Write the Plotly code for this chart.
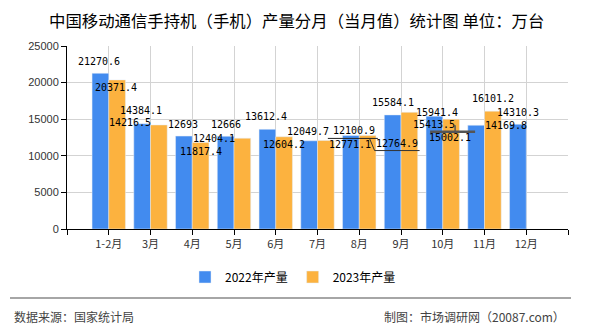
import plotly.graph_objects as go

categories = ["1-2月", "3月", "4月", "5月", "6月", "7月", "8月", "9月", "10月", "11月", "12月"]
prod_2022 = [21270.6, 14384.1, 12693, 12666, 13612.4, 12049.7, 12771.1, 15584.1, 15413.5, 14169.8, 14310.3]
prod_2023 = [20371.4, 14216.5, 11817.4, 12404.1, 12604.2, 12100.9, 12764.9, 15941.4, 15002.1, 16101.2, None]
series_names = ["2022年产量", "2023年产量"]
y_ticks = [0, 5000, 10000, 15000, 20000, 25000]

# label pixel offsets (dx right, dy down) relative to bar top centre
off_2022 = [(-1, -12), (-1, -13), (-1, -12), (0, -12), (-1, -13), (-1, -9),
            (-1, 8.5), (0, -12), (0, 8), (30, 0), (0, -12)]
off_2023 = [(-1, 8), (-29, -2), (0, 8.5), (-28, 0), (0, 8), (28, -10),
            (29, 7.5), (28, 0), (-1, 18), (0, -13), (0, 0)]

BLUE = "#428BEF"
ORANGE = "#FCB23F"

xs = list(range(len(categories)))
fig = go.Figure()
fig.add_trace(go.Bar(x=xs, y=prod_2022, name=series_names[0], marker_color=BLUE))
fig.add_trace(go.Bar(x=xs, y=prod_2023, name=series_names[1], marker_color=ORANGE))

annotations = []
for vals, offs, side in ((prod_2022, off_2022, -0.2), (prod_2023, off_2023, 0.2)):
    for i, v in enumerate(vals):
        if v is None:
            continue
        dx, dy = offs[i]
        txt = f"{v:g}" if float(v).is_integer() else f"{v}"
        annotations.append(dict(x=i + side, y=v, xref="x", yref="y", text=txt,
                                showarrow=False, xshift=dx, yshift=-dy,
                                yanchor="middle", xanchor="center",
                                font=dict(family="DejaVu Sans Mono", size=10, color="#000")))

annotations += [
    dict(text="中国移动通信手持机（手机）产量分月（当月值）统计图 单位：万台",
         xref="paper", yref="paper", x=(296 - 67) / 501, y=(229 - 20) / 183,
         xanchor="center", yanchor="middle", showarrow=False,
         font=dict(family="Noto Sans CJK SC", size=16.4, color="#000")),
    dict(text="数据来源：国家统计局", xref="paper", yref="paper",
         x=(12 - 67) / 501, y=(229 - 316) / 183, xanchor="left", yanchor="middle",
         showarrow=False, font=dict(family="Noto Sans CJK SC", size=12, color="#444")),
    dict(text="制图：市场调研网（20087.com）", xref="paper", yref="paper",
         x=(567 - 67) / 501, y=(229 - 316) / 183, xanchor="right", yanchor="middle",
         showarrow=False, font=dict(family="Noto Sans CJK SC", size=12, color="#444")),
]


def leader(xi, yv, path, color, width):
    return dict(type="path", xref="x", yref="y", xsizemode="pixel", ysizemode="pixel",
                xanchor=xi, yanchor=yv, path=path, line=dict(color=color, width=width))


shapes = [
    dict(type="line", xref="paper", yref="paper",
         x0=(10 - 67) / 501, x1=(571 - 67) / 501,
         y0=(229 - 298) / 183, y1=(229 - 298) / 183,
         line=dict(color="#888", width=1.5)),
    # label leader lines (pixel offsets from bar top)
    leader(5 + 0.2, prod_2023[5], "M 2,2 L 52,2", "#222", 1),
    leader(6 + 0.2, prod_2023[6], "M 2,-3 L 7,-15 L 52,-15", "#333", 1),
    leader(8 + 0.2, prod_2023[8], "M -21,-12.5 L 24,-12.5", "#555", 2.5),
    leader(8 + 0.2, prod_2023[8], "M 4,-6 L 4,-12.5", "#555", 1.5),
]

fig.update_layout(
    width=590, height=330,
    margin=dict(l=67, r=22, t=46, b=101),
    paper_bgcolor="white", plot_bgcolor="white",
    barmode="group", bargap=0.2, bargroupgap=0,
    showlegend=True,
    legend=dict(orientation="h", x=(293 - 67) / 501, xanchor="center",
                y=(229 - 277) / 183, yanchor="middle",
                font=dict(family="Noto Sans CJK SC", size=12, color="#000"),
                itemclick=False),
    annotations=annotations,
    shapes=shapes,
)
fig.update_xaxes(range=[-1, len(categories)], tickmode="array",
                 tickvals=list(range(-1, len(categories) + 1)),
                 ticktext=[""] + categories + [""],
                 showgrid=True, gridcolor="#d3d3d3", gridwidth=1,
                 showline=True, linecolor="#000", linewidth=1,
                 ticks="outside", ticklen=5, tickcolor="#000", zeroline=False,
                 tickfont=dict(family="Noto Sans CJK SC", size=11, color="#333"))
fig.update_yaxes(range=[0, 25000], tickmode="array", tickvals=y_ticks,
                 ticktext=[str(t) for t in y_ticks],
                 showgrid=True, gridcolor="#d3d3d3", gridwidth=1,
                 showline=True, linecolor="#000", linewidth=1,
                 ticks="outside", ticklen=5, tickcolor="#000", zeroline=False,
                 tickfont=dict(family="Liberation Sans", size=11, color="#333"))

fig.write_html("out.html")
